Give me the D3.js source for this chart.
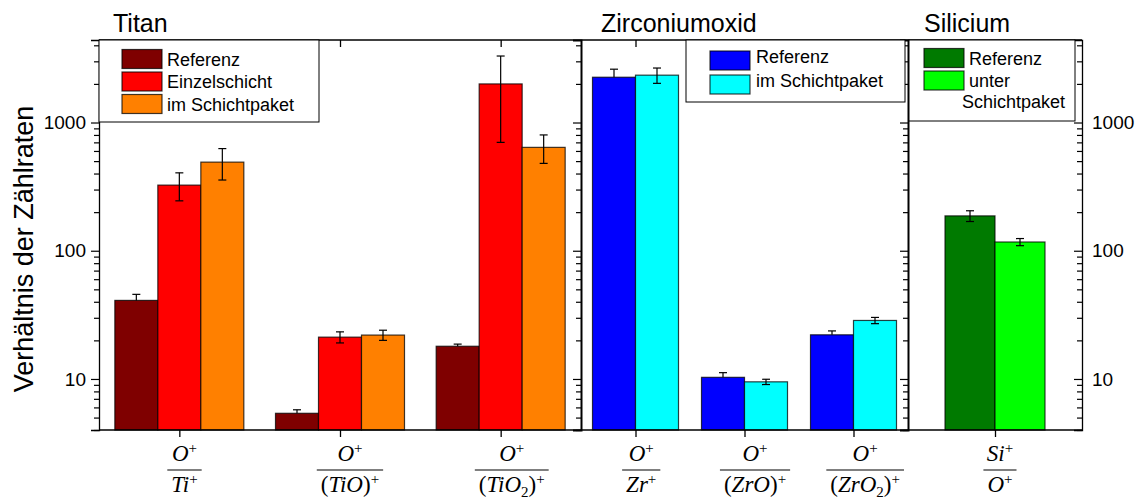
<!DOCTYPE html>
<html>
<head>
<meta charset="utf-8">
<script src="https://cdn.jsdelivr.net/npm/d3@7"></script>
<style>
body { margin: 0; background: #fff; }
svg { display: block; }
text { font-family: "Liberation Sans", Arial, sans-serif; fill: #000; }
</style>
</head>
<body>
<script>
// ---- Daten ----
var titanCats = ["Ti", "TiO", "TiO2"];
var titanNames = ["Referenz", "Einzelschicht", "im Schichtpaket"];
var titanReferenz = [41, 5.4, 18];
var titanReferenzErr = [4.7, 0.35, 0.7];
var titanEinzel = [325, 21.2, 2000];
var titanEinzelErr = [80, 2.1, 1300];
var titanPaket = [491, 22, 640];
var titanPaketErr = [135, 2, 160];

var zrCats = ["Zr", "ZrO", "ZrO2"];
var zrNames = ["Referenz", "im Schichtpaket"];
var zrReferenz = [2255, 10.3, 22.1];
var zrReferenzErr = [350, 0.9, 1.6];
var zrPaket = [2340, 9.5, 28.6];
var zrPaketErr = [320, 0.45, 1.6];

var siCats = ["Si"];
var siNames = ["Referenz", "unter", "Schichtpaket"];
var siReferenz = [187];
var siReferenzErr = [18];
var siUnter = [117];
var siUnterErr = [7.5];

// Achsenbeschriftung: ^ = hochgestellt, _ = tiefgestellt
var titanLabels = [["O^+", "Ti^+"], ["O^+", "(TiO)^+"], ["O^+", "(TiO_2)^+"]];
var zrLabels = [["O^+", "Zr^+"], ["O^+", "(ZrO)^+"], ["O^+", "(ZrO_2)^+"]];
var siLabels = [["Si^+", "O^+"]];
var yMajor = [10, 100, 1000];

// ---- Layout ---- (nicht "top" nennen: window.top ist schreibgeschützt!)
var W = 1146, H = 498;
var plotTop = 40, plotBottom = 430, plotLeft = 99, plotRight = 1082;

var svg = d3.select("body").append("svg").attr("width", W).attr("height", H);

var y = d3.scaleLog().domain([4, 4400]).range([plotBottom, plotTop]);
var yMinor = y.ticks().filter(function (v) { return yMajor.indexOf(v) < 0; });

var panels = [
  { title: "Titan", tx: 113, x0: plotLeft, x1: 581, barW: 43, cats: titanCats, labels: titanLabels,
    series: [titanReferenz, titanEinzel, titanPaket], errs: [titanReferenzErr, titanEinzelErr, titanPaketErr],
    plusOnly: [true, false, false], colors: ["#7f0000", "#ff0000", "#ff8000"] },
  { title: "Zirconiumoxid", tx: 601, x0: 581, x1: 908, barW: 43, cats: zrCats, labels: zrLabels,
    series: [zrReferenz, zrPaket], errs: [zrReferenzErr, zrPaketErr],
    plusOnly: [true, false], colors: ["#0000ff", "#00ffff"] },
  { title: "Silicium", tx: 924, x0: 908, x1: plotRight, barW: 50, cats: siCats, labels: siLabels,
    series: [siReferenz, siUnter], errs: [siReferenzErr, siUnterErr],
    plusOnly: [false, false], colors: ["#007a00", "#00ff00"] }
];

// Bruch mit hoch-/tiefgestellten Zeichen schreiben
function richText(g, str, x, yb) {
  var t = g.append("text").attr("x", x).attr("y", yb).attr("text-anchor", "middle")
    .style("font-family", "'Liberation Serif', 'Times New Roman', serif").style("font-size", "23px");
  var shift = 0;
  for (var i = 0; i < str.length; i++) {
    var c = str[i], mode = "n";
    if (c === "^" || c === "_") { mode = c; i++; c = str[i]; }
    var target = mode === "^" ? -8 : mode === "_" ? 5 : 0;
    var ts = t.append("tspan").text(c).attr("dy", target - shift);
    shift = target;
    if (mode !== "n") ts.style("font-size", "15px");
    if (/[A-Za-z]/.test(c)) ts.style("font-style", "italic");
  }
  return t;
}

panels.forEach(function (p) {
  var x = d3.scalePoint().domain(p.cats).range([p.x0, p.x1]).padding(0.5);
  var n = p.series.length;
  var half = n === 3 ? 1.5 : 1;
  var xs = d3.scaleBand().domain(d3.range(n)).range([-half * p.barW, half * p.barW]);

  var g = svg.append("g");
  p.series.forEach(function (vals, si) {
    var bars = g.selectAll(null).data(vals).enter();
    bars.append("rect")
      .attr("x", function (d, i) { return x(p.cats[i]) + xs(si); })
      .attr("y", function (d) { return y(d); })
      .attr("width", xs.bandwidth())
      .attr("height", function (d) { return plotBottom - y(d); })
      .attr("fill", p.colors[si])
      .attr("stroke", "#000").attr("stroke-opacity", 0.75).attr("stroke-width", 1.2);

    var eg = g.selectAll(null).data(vals).enter().append("g")
      .attr("transform", function (d, i) { return "translate(" + (x(p.cats[i]) + xs(si) + xs.bandwidth() / 2) + ",0)"; })
      .attr("stroke", "#000").attr("stroke-width", 1.2);
    eg.append("line")
      .attr("y1", function (d, i) { return y(d + p.errs[si][i]); })
      .attr("y2", function (d, i) { return p.plusOnly[si] ? y(d) : y(d - p.errs[si][i]); });
    eg.append("line").attr("x1", -4).attr("x2", 4)
      .attr("y1", function (d, i) { return y(d + p.errs[si][i]); })
      .attr("y2", function (d, i) { return y(d + p.errs[si][i]); });
    eg.filter(function () { return !p.plusOnly[si]; }).append("line").attr("x1", -4).attr("x2", 4)
      .attr("y1", function (d, i) { return y(d - p.errs[si][i]); })
      .attr("y2", function (d, i) { return y(d - p.errs[si][i]); });
  });

  // x-Achsen oben und unten (nur Striche)
  svg.append("g").attr("transform", "translate(0," + plotBottom + ")")
    .call(d3.axisBottom(x).tickSize(7).tickFormat(""))
    .call(function (a) { a.select(".domain").remove(); a.selectAll("line").attr("stroke-width", 1.3); });
  svg.append("g").attr("transform", "translate(0," + plotTop + ")")
    .call(d3.axisTop(x).tickSize(-7).tickFormat(""))
    .call(function (a) { a.select(".domain").remove(); a.selectAll("line").attr("stroke-width", 1.3); });

  // Bruch-Beschriftungen
  p.labels.forEach(function (lab, i) {
    var lg = svg.append("g");
    var den = richText(lg, lab[1], 0, 492);
    var w = den.node().getComputedTextLength() + 8;
    var cx = x(p.cats[i]) + 0.15 * w;
    den.attr("x", cx);
    richText(lg, lab[0], cx, 461);
    lg.append("line").attr("x1", cx - w / 2).attr("x2", cx + w / 2)
      .attr("y1", 470).attr("y2", 470).attr("stroke", "#000").attr("stroke-width", 1.2);
  });

  svg.append("text").attr("x", p.tx).attr("y", 32).style("font-size", "25px").text(p.title);
});

// Rahmen
svg.append("line").attr("x1", plotLeft).attr("x2", plotRight).attr("y1", plotTop).attr("y2", plotTop).attr("stroke", "#000").attr("stroke-width", 1.3);
svg.append("line").attr("x1", plotLeft).attr("x2", plotRight).attr("y1", plotBottom).attr("y2", plotBottom).attr("stroke", "#000").attr("stroke-width", 1.3);

// y-Achsen: links, Trennlinien, rechts
function yAxisAt(xpos, side, labels, width) {
  var major = side === "left" ? d3.axisLeft(y) : d3.axisRight(y);
  var minor = side === "left" ? d3.axisLeft(y) : d3.axisRight(y);
  var s = side === "left" ? 1 : -1;
  var gMaj = svg.append("g").attr("transform", "translate(" + xpos + ",0)")
    .call(major.tickValues(yMajor).tickSize(8 * s).tickPadding(side === "left" ? 5 : 10)
      .tickFormat(labels ? d3.format("d") : ""));
  gMaj.selectAll("text").style("font-size", "19px");
  gMaj.select(".domain").attr("stroke-width", width);
  gMaj.selectAll("line").attr("stroke-width", 1.2);
  var gMin = svg.append("g").attr("transform", "translate(" + xpos + ",0)")
    .call(minor.tickValues(yMinor).tickSize(5 * s).tickFormat(""));
  gMin.select(".domain").remove();
  gMin.selectAll("line").attr("stroke-width", 1.2);
}
yAxisAt(plotLeft, "left", true, 1.3);
yAxisAt(581, "left", false, 2);
yAxisAt(908, "left", false, 2);
yAxisAt(plotRight, "right", true, 1.3);

svg.append("text")
  .attr("transform", "translate(33,249) rotate(-90)")
  .attr("text-anchor", "middle")
  .style("font-size", "27px")
  .text("Verhältnis der Zählraten");

// Legenden
function legend(box, rows) {
  svg.append("rect").attr("x", box[0]).attr("y", box[1]).attr("width", box[2]).attr("height", box[3])
    .attr("fill", "#fff").attr("stroke", "#000").attr("stroke-width", 1);
  rows.forEach(function (r) {
    if (r.color) {
      svg.append("rect").attr("x", r.sx).attr("y", r.sy).attr("width", 40).attr("height", 19)
        .attr("fill", r.color).attr("stroke", "#000").attr("stroke-opacity", 0.75).attr("stroke-width", 1.2);
    }
    svg.append("text").attr("x", r.tx).attr("y", r.ty).style("font-size", "18px").text(r.name);
  });
}
legend([99, 40, 220, 82], [
  { name: titanNames[0], color: panels[0].colors[0], sx: 122, sy: 49.5, tx: 167, ty: 65.5 },
  { name: titanNames[1], color: panels[0].colors[1], sx: 122, sy: 72, tx: 167, ty: 88 },
  { name: titanNames[2], color: panels[0].colors[2], sx: 122, sy: 94.5, tx: 167, ty: 110.5 }
]);
legend([686, 40, 219, 62], [
  { name: zrNames[0], color: panels[1].colors[0], sx: 710, sy: 51, tx: 756, ty: 63 },
  { name: zrNames[1], color: panels[1].colors[1], sx: 710, sy: 75, tx: 756, ty: 87 }
]);
legend([909, 40, 166, 81], [
  { name: siNames[0], color: panels[2].colors[0], sx: 924, sy: 48.5, tx: 969, ty: 64.5 },
  { name: siNames[1], color: panels[2].colors[1], sx: 924, sy: 71, tx: 969, ty: 87 },
  { name: siNames[2], color: null, tx: 962, ty: 108 }
]);
</script>
</body>
</html>
